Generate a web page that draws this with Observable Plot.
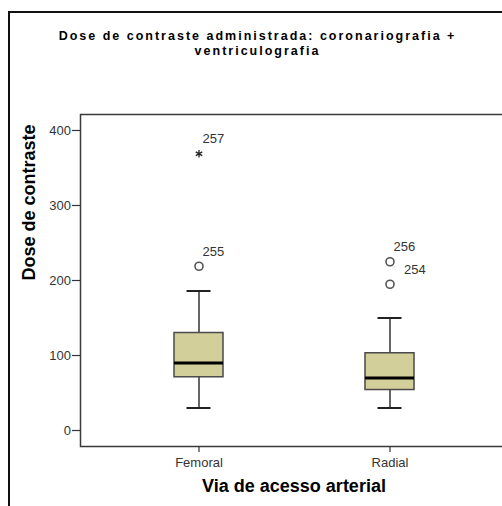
<!DOCTYPE html>
<html>
<head>
<meta charset="utf-8">
<script src="https://cdn.jsdelivr.net/npm/d3@7"></script>
<script src="https://cdn.jsdelivr.net/npm/@observablehq/plot@0.6"></script>
<style>
  html, body { margin: 0; padding: 0; background: #fff; }
  body { width: 502px; height: 506px; overflow: hidden; position: relative; font-family: "Liberation Sans", Arial, sans-serif; }
  #outer { position: absolute; left: 8px; top: 11px; width: 600px; height: 600px; border: 2px solid #111; box-sizing: border-box; }
  #title { position: absolute; left: 0px; width: 515px; top: 29px; text-align: center; font-weight: bold; font-size: 12.5px; line-height: 14.5px; letter-spacing: 2px; color: #000; white-space: nowrap; }
  #chart { position: absolute; left: 0; top: 0; width: 520px; }
  #chart svg { max-width: none !important; }
</style>
</head>
<body>
<div id="outer"></div>
<div id="title">Dose de contraste administrada: coronariografia +<br>ventriculografia</div>
<div id="chart"></div>
<script>
const categories = ["Femoral", "Radial"];
const whiskerLow = [30, 30];
const q1 = [71, 54];
const median = [90, 70];
const q3 = [130, 103];
const whiskerHigh = [186, 150];

const outlierGroup = ["Femoral", "Femoral", "Radial", "Radial"];
const outlierValue = [369, 219, 225, 195];
const outlierCase = ["257", "255", "256", "254"];
const outlierKind = ["extreme", "mild", "mild", "mild"];

const yTicks = [0, 100, 200, 300, 400];

const boxes = categories.map((c, i) => ({
  cat: c, lo: whiskerLow[i], q1: q1[i], med: median[i], q3: q3[i], hi: whiskerHigh[i]
}));
const outliers = outlierGroup.map((g, i) => ({
  cat: g, v: outlierValue[i], id: outlierCase[i], kind: outlierKind[i]
}));

const boxFill = "#d3cf9a";
const ink = "#333";

const plot = Plot.plot({
  width: 520,
  height: 506,
  marginTop: 114,
  marginBottom: 60,
  marginLeft: 80,
  marginRight: 13,
  style: { fontFamily: "'Liberation Sans', Arial, sans-serif", background: "transparent", overflow: "visible", maxWidth: "none" },
  x: { type: "band", domain: categories, range: [173.5, 413.5], paddingInner: 0.7435, paddingOuter: 0 },
  y: { domain: [-21.3, 421.3] },
  marks: [
    Plot.frame({ stroke: "#3a3a3a", strokeWidth: 1.5 }),
    Plot.axisY({ ticks: yTicks, tickSize: 8, tickPadding: 1.5, fontSize: 13, color: "#333", label: null, strokeWidth: 1.2 }),
    Plot.axisX({ tickSize: 6, tickPadding: 5, fontSize: 13, color: "#333", label: null, strokeWidth: 1.2 }),
    Plot.ruleX(boxes, { x: "cat", y1: "lo", y2: "q1", stroke: ink, strokeWidth: 1.5 }),
    Plot.ruleX(boxes, { x: "cat", y1: "q3", y2: "hi", stroke: ink, strokeWidth: 1.5 }),
    Plot.tickY(boxes, { x: "cat", y: "lo", stroke: "#222", strokeWidth: 2, insetLeft: 12.5, insetRight: 12.5 }),
    Plot.tickY(boxes, { x: "cat", y: "hi", stroke: "#222", strokeWidth: 2, insetLeft: 12.5, insetRight: 12.5 }),
    Plot.barY(boxes, { x: "cat", y1: "q1", y2: "q3", fill: boxFill, stroke: "#4a4a4a", strokeWidth: 1.5 }),
    Plot.tickY(boxes, { x: "cat", y: "med", stroke: "#000", strokeWidth: 3 }),
    Plot.dot(outliers.filter(d => d.kind === "mild"), { x: "cat", y: "v", r: 4, stroke: "#555", strokeWidth: 1.6, fill: "none" }),
    Plot.dot(outliers.filter(d => d.kind === "extreme"), { x: "cat", y: "v", r: 3.5, symbol: "asterisk", stroke: "#222", strokeWidth: 1.3 }),
    Plot.text(outliers.filter(d => d.id !== "254"), { x: "cat", y: "v", text: "id", textAnchor: "start", dx: 3.5, dy: -14.5, fontSize: 13, fill: "#333" }),
    Plot.text(outliers.filter(d => d.id === "254"), { x: "cat", y: "v", text: "id", textAnchor: "start", dx: 14, dy: -14, fontSize: 13, fill: "#333" }),
    Plot.text(["Dose de contraste"], { frameAnchor: "left", rotate: -90, dx: -51, fontSize: 18, fontWeight: "bold", fill: "#000" }),
    Plot.text(["Via de acesso arterial"], { frameAnchor: "bottom", dy: 45, fontSize: 18, fontWeight: "bold", fill: "#000", letterSpacing: "0.6px" })
  ]
});
document.getElementById("chart").appendChild(plot);
</script>
</body>
</html>
